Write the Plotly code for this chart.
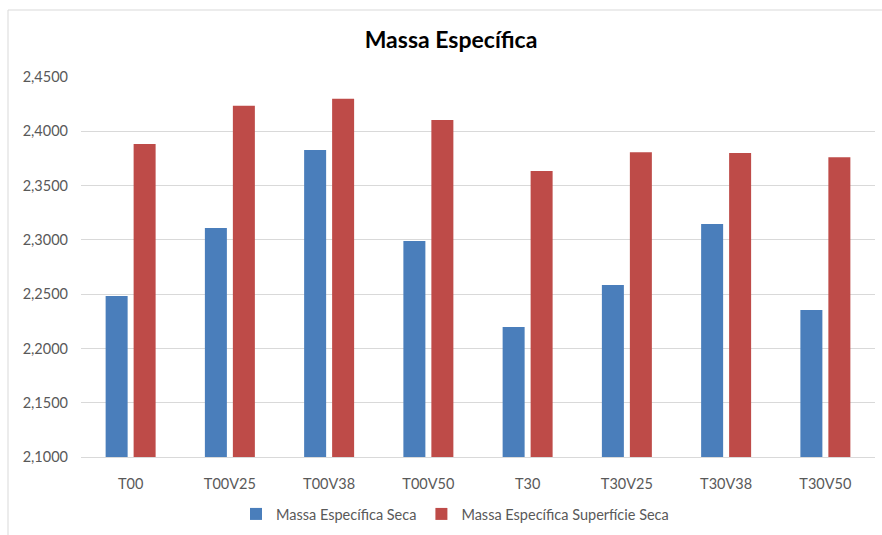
import plotly.graph_objects as go

categories = ["T00", "T00V25", "T00V38", "T00V50", "T30", "T30V25", "T30V38", "T30V50"]
seca = [2.2483, 2.3109, 2.3827, 2.2989, 2.2197, 2.2584, 2.3145, 2.2354]
sup_seca = [2.3882, 2.4235, 2.4300, 2.4103, 2.3634, 2.3808, 2.3799, 2.3762]
series_names = ["Massa Específica Seca", "Massa Específica Superfície Seca"]
tick_vals = [2.10, 2.15, 2.20, 2.25, 2.30, 2.35, 2.40, 2.45]
tick_text = ["2,1000", "2,1500", "2,2000", "2,2500", "2,3000", "2,3500", "2,4000", "2,4500"]

W, H = 882, 535
ml, mr, mt, mb = 81, 7, 77, 78
pw, ph = W - ml - mr, H - mt - mb

def px_x(x):
    return (x - ml) / pw

def px_y(y):
    return (H - mb - y) / ph

font = "Lato, 'Open Sans', sans-serif"

fig = go.Figure()
fig.add_trace(go.Bar(x=categories, y=seca, name=series_names[0], marker_color="#4A7EBB",
                     marker_line_width=0))
fig.add_trace(go.Bar(x=categories, y=sup_seca, name=series_names[1], marker_color="#BE4B48",
                     marker_line_width=0))

fig.update_layout(
    width=W, height=H,
    margin=dict(l=ml, r=mr, t=mt, b=mb, autoexpand=False),
    paper_bgcolor="white", plot_bgcolor="white",
    barmode="group", bargap=0.436, bargroupgap=0.214,
    title=dict(text="<b>Massa Específica</b>", x=px_x(451), xref="paper", xanchor="center",
               y=1 - 40 / H, yanchor="middle",
               font=dict(family=font, size=23, color="#000000")),
    font=dict(family=font, size=14, color="#595959"),
    xaxis=dict(showgrid=False, showline=True, linecolor="#D9D9D9", linewidth=1,
               ticks="", ticklabelstandoff=14, tickfont=dict(size=14.5, color="#595959")),
    yaxis=dict(range=[2.1, 2.45], tickvals=tick_vals, ticktext=tick_text,
               showgrid=True, gridcolor="#D9D9D9", gridwidth=1, zeroline=False,
               showline=False, ticks="", ticklabelstandoff=12,
               tickfont=dict(size=14.5, color="#595959")),
    legend=dict(orientation="h", x=px_x(455), xanchor="center", y=px_y(514), yanchor="middle",
                font=dict(size=14.5, color="#595959"), itemwidth=30, traceorder="normal"),
    showlegend=True,
)

fig.add_shape(type="rect", xref="paper", yref="paper",
              x0=px_x(8), x1=px_x(895), y0=px_y(545), y1=px_y(10),
              line=dict(color="#D9D9D9", width=1), fillcolor="rgba(0,0,0,0)", layer="below")

fig.write_html("out.html")
